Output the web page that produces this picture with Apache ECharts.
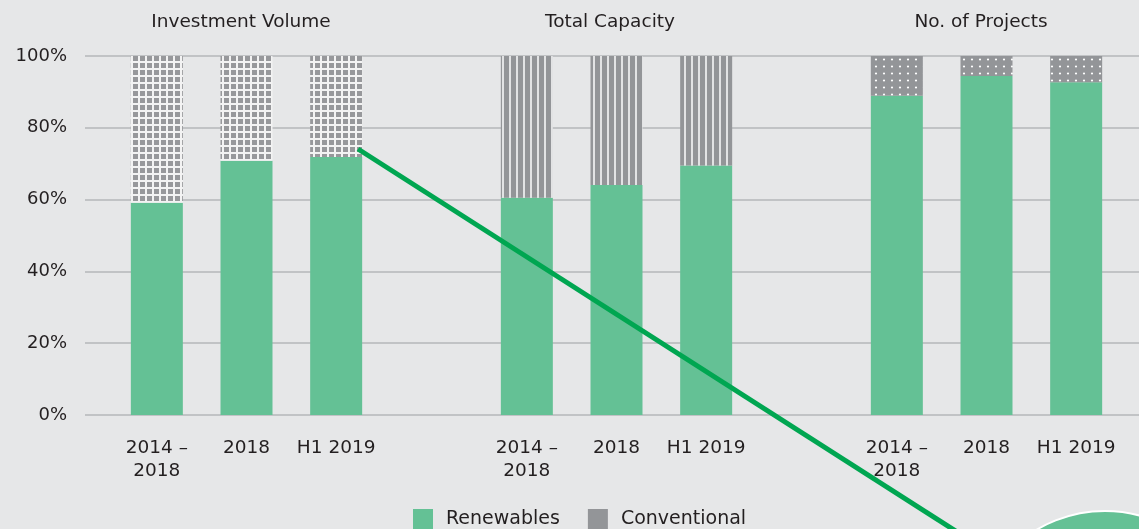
<!DOCTYPE html>
<html>
<head>
<meta charset="utf-8">
<script src="https://cdn.jsdelivr.net/npm/echarts@6/dist/echarts.min.js"></script>
<style>
  html, body { margin: 0; padding: 0; background: #e6e7e8; }
  #main { width: 1139px; height: 529px; }
</style>
</head>
<body>
<div id="main"></div>
<script>
const groups = ['Investment Volume', 'Total Capacity', 'No. of Projects'];
const periods = ['2014 –\n2018', '2018', 'H1 2019'];
const renewables = [
    [59.1, 70.8, 71.9],   // investment volume
    [60.5, 64.1, 69.5],   // total capacity
    [88.9, 94.4, 92.7]    // no. of projects
];
const conventional = [
    [40.9, 29.2, 28.1],
    [39.5, 35.9, 30.5],
    [11.1, 5.6, 7.3]
];
const yTicks = [0, 20, 40, 60, 80, 100];

const GREEN = '#64c195';
const GRAY = '#939598';
const FONT = 'DejaVu Sans';
const TEXT = '#231f20';

// small canvases used as repeating fills for the conventional bars
function makePattern(kind) {
    const c = document.createElement('canvas');
    const ctx = c.getContext('2d');
    if (kind === 'grid') {
        c.width = 7; c.height = 7;
        ctx.fillStyle = '#f3f3f3';
        ctx.fillRect(0, 0, 7, 7);
        ctx.fillStyle = '#97989b';
        ctx.fillRect(0, 0, 5, 5);
    } else if (kind === 'stripes') {
        c.width = 7; c.height = 4;
        ctx.fillStyle = '#e2e3e4';
        ctx.fillRect(0, 0, 7, 4);
        ctx.fillStyle = GRAY;
        ctx.fillRect(0, 0, 5, 4);
    } else {
        c.width = 8; c.height = 7;
        ctx.fillStyle = GRAY;
        ctx.fillRect(0, 0, 8, 7);
        ctx.fillStyle = '#ffffff';
        ctx.beginPath();
        ctx.arc(4, 3.5, 1.1, 0, Math.PI * 2);
        ctx.fill();
    }
    return { image: c, repeat: 'repeat' };
}
const patterns = [makePattern('grid'), makePattern('stripes'), makePattern('dots')];

const groupLeft = [112, 482, 852];
const groupWidth = 269;
const titleX = [236, 605, 976];

const grids = [{ left: 85, right: 0, top: 56, height: 359 }];
const xAxes = [{ gridIndex: 0, type: 'category', show: false, data: ['a'] }];
const yAxes = [{
    gridIndex: 0,
    type: 'value',
    min: yTicks[0],
    max: yTicks[yTicks.length - 1],
    interval: yTicks[1] - yTicks[0],
    axisLine: { show: false },
    axisTick: { show: false },
    axisLabel: {
        formatter: '{value}%',
        fontFamily: FONT,
        fontSize: 18,
        color: TEXT,
        margin: 18
    },
    splitLine: { lineStyle: { color: '#b5b7ba', width: 1.5 } }
}];
const series = [];

groups.forEach((g, i) => {
    grids.push({ left: groupLeft[i], width: groupWidth, top: 56, height: 359 });
    xAxes.push({
        gridIndex: i + 1,
        type: 'category',
        data: periods,
        axisLine: { show: false },
        axisTick: { show: false },
        axisLabel: {
            interval: 0,
            fontFamily: FONT,
            fontSize: 18.5,
            color: TEXT,
            margin: 22,
            lineHeight: 23
        }
    });
    yAxes.push({ gridIndex: i + 1, type: 'value', min: 0, max: 100, show: false });
    series.push({
        name: 'Renewables',
        type: 'bar',
        stack: 'g' + i,
        xAxisIndex: i + 1,
        yAxisIndex: i + 1,
        barWidth: 52,
        data: renewables[i],
        itemStyle: { color: GREEN }
    });
    series.push({
        name: 'Conventional',
        type: 'bar',
        stack: 'g' + i,
        xAxisIndex: i + 1,
        yAxisIndex: i + 1,
        barWidth: 52,
        data: conventional[i],
        itemStyle: { color: patterns[i] }
    });
});

const chart = echarts.init(document.getElementById('main'));
chart.setOption({
    backgroundColor: '#e6e7e8',
    animation: false,
    title: groups.map((g, i) => ({
        text: g,
        left: titleX[i],
        top: 8,
        textAlign: 'center',
        textStyle: { fontFamily: FONT, fontSize: 18.5, fontWeight: 'normal', color: TEXT }
    })),
    legend: {
        left: 413,
        top: 509,
        padding: 0,
        itemWidth: 20,
        itemHeight: 20,
        itemGap: 28,
        icon: 'rect',
        textStyle: { fontFamily: FONT, fontSize: 19, color: TEXT, padding: [0, 0, 0, 8] },
        data: [
            { name: 'Renewables', itemStyle: { color: GREEN } },
            { name: 'Conventional', itemStyle: { color: GRAY } }
        ]
    },
    grid: grids,
    xAxis: xAxes,
    yAxis: yAxes,
    series: series,
    graphic: [
        {
            type: 'circle',
            z: 100,
            shape: { cx: 1105, cy: 645, r: 134 },
            style: { fill: GREEN, stroke: '#ffffff', lineWidth: 2 }
        },
        {
            type: 'line',
            z: 101,
            shape: { x1: 358, y1: 149, x2: 1001, y2: 560 },
            style: { stroke: '#00a651', lineWidth: 5 }
        }
    ]
});
</script>
</body>
</html>
